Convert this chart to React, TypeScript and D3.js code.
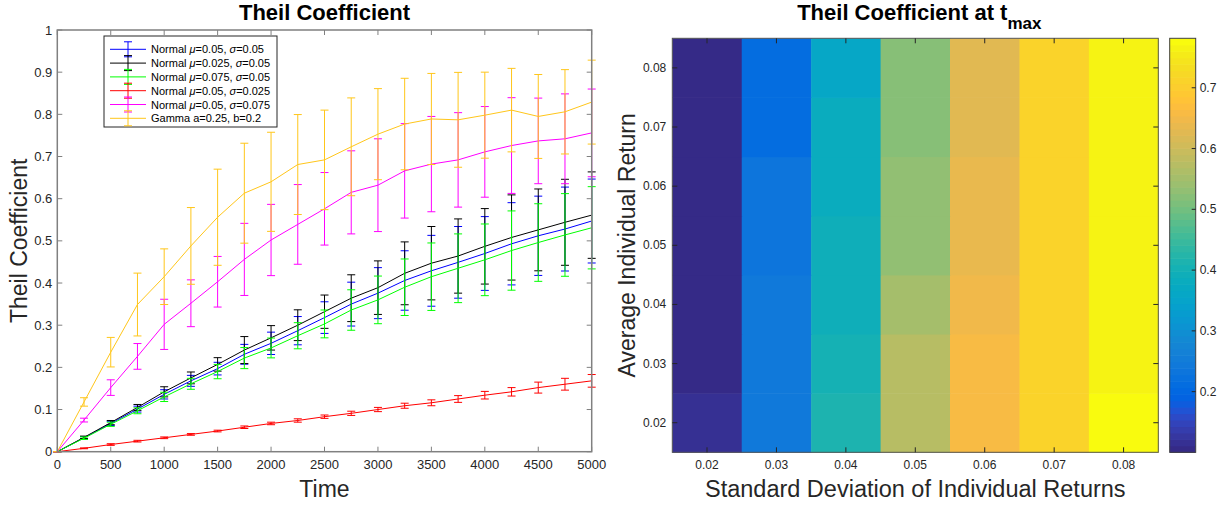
import React from "react";
import * as d3 from "d3";

// ---------- Left chart data ----------
const times = [0, 250, 500, 750, 1000, 1250, 1500, 1750, 2000, 2250, 2500, 2750, 3000, 3250, 3500, 3750, 4000, 4250, 4500, 4750, 5000];

const blueMean = [0, 0.033, 0.067, 0.101, 0.136, 0.168, 0.197, 0.231, 0.257, 0.287, 0.318, 0.35, 0.376, 0.406, 0.429, 0.449, 0.47, 0.493, 0.512, 0.528, 0.547];
const blueErr = [0, 0.003, 0.005, 0.007, 0.011, 0.013, 0.015, 0.0235, 0.0265, 0.0335, 0.0375, 0.052, 0.0605, 0.0705, 0.084, 0.085, 0.0875, 0.0975, 0.094, 0.0995, 0.0995];
const blackMean = [0, 0.034, 0.069, 0.105, 0.142, 0.175, 0.207, 0.241, 0.27, 0.3, 0.332, 0.364, 0.389, 0.423, 0.447, 0.464, 0.487, 0.508, 0.526, 0.544, 0.561];
const blackErr = [0, 0.003, 0.005, 0.007, 0.012, 0.014, 0.016, 0.032, 0.029, 0.0365, 0.0395, 0.0555, 0.0635, 0.0745, 0.087, 0.088, 0.0895, 0.101, 0.097, 0.102, 0.1025];
const greenMean = [0, 0.032, 0.065, 0.097, 0.13, 0.161, 0.19, 0.222, 0.246, 0.275, 0.303, 0.336, 0.36, 0.39, 0.415, 0.435, 0.455, 0.477, 0.496, 0.514, 0.531];
const greenErr = [0, 0.003, 0.005, 0.007, 0.011, 0.013, 0.017, 0.025, 0.0235, 0.031, 0.033, 0.048, 0.0565, 0.067, 0.08, 0.0815, 0.085, 0.094, 0.092, 0.098, 0.0975];
const redMean = [0, 0.008, 0.017, 0.025, 0.033, 0.041, 0.049, 0.058, 0.067, 0.074, 0.083, 0.091, 0.1, 0.109, 0.116, 0.125, 0.134, 0.142, 0.152, 0.16, 0.168];
const redErr = [0, 0.001, 0.002, 0.002, 0.002, 0.002, 0.002, 0.003, 0.003, 0.004, 0.004, 0.005, 0.005, 0.006, 0.007, 0.008, 0.009, 0.01, 0.013, 0.014, 0.015];
const magentaMean = [0, 0.075, 0.152, 0.226, 0.302, 0.352, 0.403, 0.456, 0.502, 0.539, 0.576, 0.615, 0.632, 0.666, 0.682, 0.692, 0.711, 0.726, 0.737, 0.742, 0.756];
const magentaErr = [0, 0.0045, 0.0185, 0.0305, 0.0595, 0.0555, 0.06, 0.0855, 0.0845, 0.0945, 0.086, 0.0985, 0.11, 0.112, 0.113, 0.112, 0.1075, 0.1135, 0.1015, 0.1065, 0.104];
const gammaMean = [0, 0.118, 0.236, 0.349, 0.415, 0.488, 0.556, 0.613, 0.64, 0.681, 0.692, 0.723, 0.753, 0.777, 0.789, 0.787, 0.798, 0.81, 0.795, 0.806, 0.829];
const gammaErr = [0, 0.01, 0.035, 0.0745, 0.066, 0.091, 0.114, 0.1185, 0.1175, 0.1185, 0.118, 0.116, 0.108, 0.1085, 0.108, 0.1125, 0.102, 0.099, 0.0995, 0.1, 0.0995];

const xTicks = [0, 500, 1000, 1500, 2000, 2500, 3000, 3500, 4000, 4500, 5000];
const yTicks = [0, 0.1, 0.2, 0.3, 0.4, 0.5, 0.6, 0.7, 0.8, 0.9, 1];

// ---------- Right chart data ----------
const sdValues = [0.02, 0.03, 0.04, 0.05, 0.06, 0.07, 0.08];
const muValues = [0.02, 0.03, 0.04, 0.05, 0.06, 0.07, 0.08];
// rows follow muValues, columns follow sdValues
const theilAtTmax = [
  [0.116, 0.245, 0.414, 0.572, 0.662, 0.714, 0.776],
  [0.105, 0.243, 0.403, 0.57, 0.66, 0.712, 0.766],
  [0.105, 0.243, 0.395, 0.553, 0.645, 0.712, 0.765],
  [0.105, 0.232, 0.392, 0.53, 0.643, 0.712, 0.765],
  [0.105, 0.23, 0.381, 0.528, 0.634, 0.712, 0.765],
  [0.105, 0.212, 0.381, 0.518, 0.632, 0.712, 0.765],
  [0.105, 0.21, 0.366, 0.516, 0.622, 0.712, 0.764],
];
const colorbarTicks = [0.2, 0.3, 0.4, 0.5, 0.6, 0.7];
const colorLimits = [0.1002, 0.7814];

const parula: number[][] = [
  [0.2081, 0.1663, 0.5292], [0.2116, 0.1898, 0.5777], [0.2123, 0.2138, 0.627], [0.2081, 0.2386, 0.6771],
  [0.1959, 0.2645, 0.7279], [0.1707, 0.2919, 0.7792], [0.1253, 0.3242, 0.8303], [0.0591, 0.3598, 0.8683],
  [0.0117, 0.3875, 0.882], [0.006, 0.4086, 0.8828], [0.0165, 0.4266, 0.8786], [0.0329, 0.443, 0.872],
  [0.0498, 0.4586, 0.8641], [0.0629, 0.4737, 0.8554], [0.0723, 0.4887, 0.8467], [0.0779, 0.504, 0.8384],
  [0.0793, 0.52, 0.8312], [0.0749, 0.5375, 0.8263], [0.0641, 0.557, 0.824], [0.0488, 0.5772, 0.8228],
  [0.0343, 0.5966, 0.8199], [0.0265, 0.6137, 0.8135], [0.0239, 0.6287, 0.8038], [0.0231, 0.6418, 0.7913],
  [0.0228, 0.6535, 0.7768], [0.0267, 0.6642, 0.7607], [0.0384, 0.6743, 0.7436], [0.059, 0.6838, 0.7254],
  [0.0843, 0.6928, 0.7062], [0.1133, 0.7015, 0.6859], [0.1453, 0.7098, 0.6646], [0.1801, 0.7177, 0.6424],
  [0.2178, 0.725, 0.6193], [0.2586, 0.7317, 0.5954], [0.3022, 0.7376, 0.5712], [0.3482, 0.7424, 0.5473],
  [0.3953, 0.7459, 0.5244], [0.442, 0.7481, 0.5033], [0.4871, 0.7491, 0.484], [0.53, 0.7491, 0.4661],
  [0.5709, 0.7485, 0.4494], [0.6099, 0.7473, 0.4337], [0.6473, 0.7456, 0.4188], [0.6834, 0.7435, 0.4044],
  [0.7184, 0.7411, 0.3905], [0.7525, 0.7384, 0.3768], [0.7858, 0.7356, 0.3633], [0.8185, 0.7327, 0.3498],
  [0.8507, 0.7299, 0.336], [0.8824, 0.7274, 0.3217], [0.9139, 0.7258, 0.3063], [0.945, 0.7261, 0.2886],
  [0.9739, 0.7314, 0.2666], [0.9938, 0.7455, 0.2403], [0.999, 0.7653, 0.2164], [0.9955, 0.7861, 0.1967],
  [0.988, 0.8066, 0.1794], [0.9789, 0.8271, 0.1633], [0.9697, 0.8481, 0.1475], [0.9626, 0.8705, 0.1309],
  [0.9589, 0.8949, 0.1132], [0.9598, 0.9218, 0.0948], [0.9661, 0.9514, 0.0755], [0.9763, 0.9831, 0.0538],
];

const toRgb = (c: number[]) => d3.rgb(c[0] * 255, c[1] * 255, c[2] * 255).formatHex();
const parulaColor = (v: number) => {
  const t = (v - colorLimits[0]) / (colorLimits[1] - colorLimits[0]);
  const i = Math.max(0, Math.min(63, Math.floor(t * 64)));
  return toRgb(parula[i]);
};

const FONT = "'Liberation Sans', Arial, Helvetica, sans-serif";
const AXIS = "#808080";
const TXT = "#262626";

type Series = { mean: number[]; err: number[]; color: string; label: React.ReactNode };

const series: Series[] = [
  { mean: blueMean, err: blueErr, color: "#0000ff", label: <>Normal <tspan fontStyle="italic">μ</tspan>=0.05, <tspan fontStyle="italic">σ</tspan>=0.05</> },
  { mean: blackMean, err: blackErr, color: "#000000", label: <>Normal <tspan fontStyle="italic">μ</tspan>=0.025, <tspan fontStyle="italic">σ</tspan>=0.05</> },
  { mean: greenMean, err: greenErr, color: "#00ff00", label: <>Normal <tspan fontStyle="italic">μ</tspan>=0.075, <tspan fontStyle="italic">σ</tspan>=0.05</> },
  { mean: redMean, err: redErr, color: "#ff0000", label: <>Normal <tspan fontStyle="italic">μ</tspan>=0.05, <tspan fontStyle="italic">σ</tspan>=0.025</> },
  { mean: magentaMean, err: magentaErr, color: "#ff00ff", label: <>Normal <tspan fontStyle="italic">μ</tspan>=0.05, <tspan fontStyle="italic">σ</tspan>=0.075</> },
  { mean: gammaMean, err: gammaErr, color: "#ffc61a", label: <>Gamma a=0.25, b=0.2</> },
];

function LeftChart() {
  const x = d3.scaleLinear().domain([0, 5000]).range([57.3, 591.7]);
  const y = d3.scaleLinear().domain([0, 1]).range([451.7, 30]);
  const [x0, x1] = x.range();
  const [y0, y1] = y.range();
  const cap = 4;
  const line = d3.line<number>().x((_, i) => x(times[i])).y((d) => y(d));
  const lg = { x: 104, y: 36, w: 173, h: 91 };
  return (
    <g fontFamily={FONT}>
      <rect x={x0} y={y1} width={x1 - x0} height={y0 - y1} fill="#fff" />
      {series.map((s, si) => (
        <g key={si}>
          <path d={line(s.mean) || ""} fill="none" stroke={s.color} strokeWidth={1} />
          {s.mean.map((m, i) => {
            const cx = x(times[i]);
            const top = y(m + s.err[i]);
            const bot = y(m - s.err[i]);
            return (
              <g key={i} stroke={s.color} strokeWidth={1}>
                <line x1={cx} x2={cx} y1={top} y2={bot} />
                <line x1={cx - cap} x2={cx + cap} y1={top} y2={top} />
                <line x1={cx - cap} x2={cx + cap} y1={bot} y2={bot} />
              </g>
            );
          })}
        </g>
      ))}
      {/* axes box */}
      <rect x={x0} y={y1} width={x1 - x0} height={y0 - y1} fill="none" stroke={AXIS} strokeWidth={1.5} />
      {xTicks.map((t) => (
        <g key={t}>
          <line x1={x(t)} x2={x(t)} y1={y0} y2={y0 - 5} stroke={AXIS} />
          <line x1={x(t)} x2={x(t)} y1={y1} y2={y1 + 5} stroke={AXIS} />
          <text x={x(t)} y={y0 + 17} textAnchor="middle" fontSize={13} fill={TXT}>{t}</text>
        </g>
      ))}
      {yTicks.map((t) => (
        <g key={t}>
          <line x1={x0} x2={x0 + 5} y1={y(t)} y2={y(t)} stroke={AXIS} />
          <line x1={x1} x2={x1 - 5} y1={y(t)} y2={y(t)} stroke={AXIS} />
          <text x={x0 - 5} y={y(t) + 4.5} textAnchor="end" fontSize={13} fill={TXT}>{t}</text>
        </g>
      ))}
      <text x={(x0 + x1) / 2} y={20} textAnchor="middle" fontSize={22} fontWeight="bold" fill="#000">Theil Coefficient</text>
      <text x={(x0 + x1) / 2} y={497} textAnchor="middle" fontSize={23} fill={TXT}>Time</text>
      <text transform={`translate(27,${(y0 + y1) / 2}) rotate(-90)`} textAnchor="middle" fontSize={23} fill={TXT}>Theil Coefficient</text>
      {/* legend */}
      <rect x={lg.x} y={lg.y} width={lg.w} height={lg.h} fill="#fff" stroke="#262626" strokeWidth={1} />
      {series.map((s, i) => {
        const cy = 49.3 + i * 13.8;
        return (
          <g key={i}>
            <line x1={110} x2={146} y1={cy} y2={cy} stroke={s.color} strokeWidth={1} />
            <g stroke={s.color} strokeWidth={1}>
              <line x1={128} x2={128} y1={cy - 7.5} y2={cy + 7.5} />
              <line x1={124} x2={132} y1={cy - 7.5} y2={cy - 7.5} />
              <line x1={124} x2={132} y1={cy + 7.5} y2={cy + 7.5} />
            </g>
            <text x={151} y={cy + 4} fontSize={11} fill="#000">{s.label}</text>
          </g>
        );
      })}
    </g>
  );
}

function RightChart() {
  const x = d3.scaleLinear().domain([0.015, 0.085]).range([672.3, 1158.3]);
  const y = d3.scaleLinear().domain([0.015, 0.085]).range([452.3, 38.3]);
  const cb = d3.scaleLinear().domain(colorLimits).range([452.3, 38.3]);
  const [x0, x1] = x.range();
  const [y0, y1] = y.range();
  const cbx0 = 1169.7;
  const cbx1 = 1195.7;
  const half = 0.005;
  const bands = d3.range(64);
  return (
    <g fontFamily={FONT}>
      {muValues.map((mu, r) =>
        sdValues.map((sd, c) => (
          <rect
            key={`${r}-${c}`}
            x={x(sd - half)}
            y={y(mu + half)}
            width={x(sd + half) - x(sd - half) + 0.5}
            height={y(mu - half) - y(mu + half) + 0.5}
            fill={parulaColor(theilAtTmax[r][c])}
          />
        ))
      )}
      <rect x={x0} y={y1} width={x1 - x0} height={y0 - y1} fill="none" stroke="#555" strokeWidth={1} />
      {sdValues.map((t) => (
        <g key={t}>
          <line x1={x(t)} x2={x(t)} y1={y0} y2={y0 - 5} stroke="#262626" />
          <line x1={x(t)} x2={x(t)} y1={y1} y2={y1 + 5} stroke="#262626" />
          <text x={x(t)} y={y0 + 17} textAnchor="middle" fontSize={12} fill={TXT}>{t.toFixed(2)}</text>
        </g>
      ))}
      {muValues.map((t) => (
        <g key={t}>
          <line x1={x0} x2={x0 + 5} y1={y(t)} y2={y(t)} stroke="#262626" />
          <line x1={x1} x2={x1 - 5} y1={y(t)} y2={y(t)} stroke="#262626" />
          <text x={x0 - 6} y={y(t) + 4} textAnchor="end" fontSize={12} fill={TXT}>{t.toFixed(2)}</text>
        </g>
      ))}
      {/* colorbar */}
      {bands.map((i) => {
        const v0 = colorLimits[0] + (i / 64) * (colorLimits[1] - colorLimits[0]);
        const v1 = colorLimits[0] + ((i + 1) / 64) * (colorLimits[1] - colorLimits[0]);
        return (
          <rect key={i} x={cbx0} y={cb(v1)} width={cbx1 - cbx0} height={cb(v0) - cb(v1) + 0.6} fill={toRgb(parula[i])} />
        );
      })}
      <rect x={cbx0} y={y1} width={cbx1 - cbx0} height={y0 - y1} fill="none" stroke="#404040" strokeWidth={1} />
      {colorbarTicks.map((t) => (
        <g key={t}>
          <line x1={cbx1} x2={cbx1 - 4} y1={cb(t)} y2={cb(t)} stroke="#262626" />
          <text x={cbx1 + 4} y={cb(t) + 4} fontSize={12} fill={TXT}>{t.toFixed(1)}</text>
        </g>
      ))}
      <text x={(x0 + x1) / 2 + 4} y={20} textAnchor="middle" fontSize={22} fontWeight="bold" fill="#000">
        Theil Coefficient at t<tspan fontSize={17} dy={9}>max</tspan>
      </text>
      <text x={(x0 + x1) / 2} y={497} textAnchor="middle" fontSize={23.5} fill={TXT}>Standard Deviation of Individual Returns</text>
      <text transform={`translate(635,${(y0 + y1) / 2}) rotate(-90)`} textAnchor="middle" fontSize={23} fill={TXT}>Average Individual Return</text>
    </g>
  );
}

export default function App() {
  return (
    <svg width={1225} height={505} viewBox="0 0 1225 505" style={{ position: "absolute", left: 0, top: 0, background: "#fff" }}>
      <rect x={0} y={0} width={1225} height={505} fill="#fff" />
      <LeftChart />
      <RightChart />
    </svg>
  );
}
